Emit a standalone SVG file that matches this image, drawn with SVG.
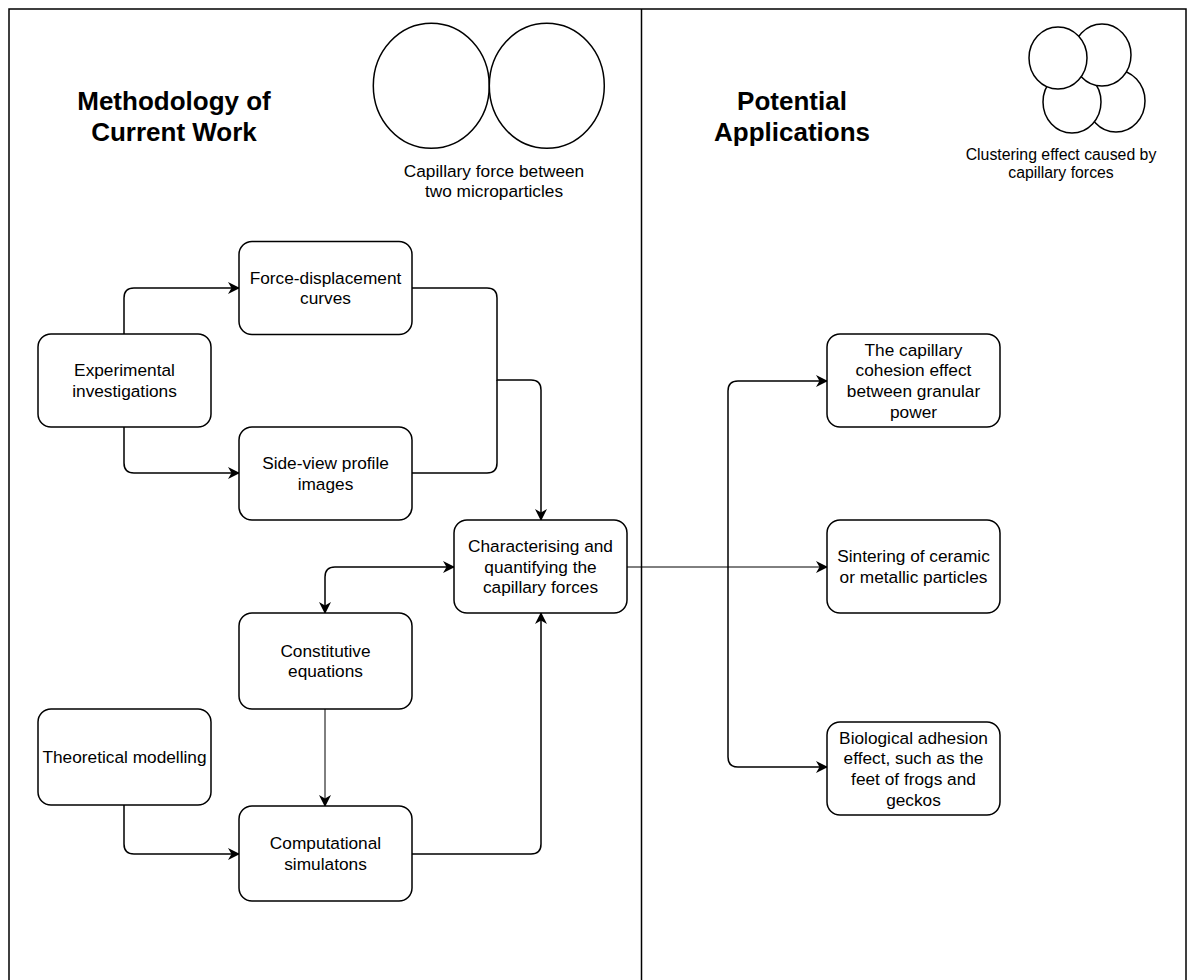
<svg xmlns="http://www.w3.org/2000/svg" width="1195" height="980" viewBox="0 0 1195 980">
<style>
.box{fill:#fff;stroke:#000;stroke-width:1.5}
.t{font-family:"Liberation Sans",Arial,sans-serif;font-size:17.28px;fill:#000;text-anchor:middle}
.title{font-family:"Liberation Sans",Arial,sans-serif;font-size:26px;font-weight:bold;fill:#000;text-anchor:middle}
.cap{font-family:"Liberation Sans",Arial,sans-serif;fill:#000;text-anchor:middle}
.c{fill:none;stroke:#000;stroke-width:1.5}
.thin{fill:none;stroke:#000;stroke-width:1}
.circ{fill:#fff;stroke:#000;stroke-width:1.5}
</style>
<defs>
<marker id="arr" viewBox="0 0 12 12" refX="11" refY="6" markerWidth="12" markerHeight="12" markerUnits="userSpaceOnUse" orient="auto-start-reverse">
<path d="M0,0 L12,6 L0,12 L3.5,6 Z" fill="#000"/>
</marker>
</defs>
<rect x="0" y="0" width="1195" height="980" fill="#fff"/>
<g id="frame">
<rect x="9" y="9" width="1177" height="1010" fill="none" stroke="#000" stroke-width="1.5"/>
<line x1="641.5" y1="9" x2="641.5" y2="980" stroke="#000" stroke-width="1.5"/>
</g>
<g id="title-left">
<text class="title"><tspan x="174" y="110">Methodology of</tspan><tspan x="174" y="141">Current Work</tspan></text>
</g>
<g id="title-right">
<text class="title"><tspan x="792" y="110">Potential</tspan><tspan x="792" y="141">Applications</tspan></text>
</g>
<g id="two-particles">
<ellipse class="circ" cx="431.3" cy="85.8" rx="58" ry="62.5"/>
<ellipse class="circ" cx="546.8" cy="85.8" rx="57.5" ry="62.5"/>
<text class="cap" style="font-size:17.28px"><tspan x="494" y="177">Capillary force between</tspan><tspan x="494" y="197">two microparticles</tspan></text>
</g>
<g id="cluster">
<ellipse class="circ" cx="1116" cy="101" rx="29" ry="31"/>
<ellipse class="circ" cx="1072" cy="102" rx="29" ry="31"/>
<ellipse class="circ" cx="1102" cy="55" rx="29" ry="31"/>
<ellipse class="circ" cx="1058" cy="58" rx="29" ry="31"/>
<text class="cap" style="font-size:15.84px"><tspan x="1061" y="160">Clustering effect caused by</tspan><tspan x="1061" y="178">capillary forces</tspan></text>
</g>
<g id="connectors">
<path class="c" d="M124,334 V298 Q124,288 134,288 H239" marker-end="url(#arr)"/>
<path class="c" d="M124,427 V463 Q124,473 134,473 H239" marker-end="url(#arr)"/>
<path class="c" d="M412,288 H487 Q497,288 497,298 V380 H531 Q541,380 541,390 V520" marker-end="url(#arr)"/>
<path class="c" d="M412,473 H487 Q497,473 497,463 V380"/>
<path class="c" d="M325,613 V577 Q325,567 335,567 H454" marker-start="url(#arr)" marker-end="url(#arr)"/>
<path class="thin" d="M325,709 V806" marker-end="url(#arr)"/>
<path class="c" d="M124,805 V844 Q124,854 134,854 H239" marker-end="url(#arr)"/>
<path class="c" d="M411,854 H531 Q541,854 541,844 V613" marker-end="url(#arr)"/>
<path class="thin" d="M627,567 H827" marker-end="url(#arr)"/>
<path class="c" d="M728,567 V391 Q728,381 738,381 H827" marker-end="url(#arr)"/>
<path class="c" d="M728,567 V757 Q728,767 738,767 H827" marker-end="url(#arr)"/>
</g>
<g id="force-displacement">
<rect class="box" x="239" y="241.5" width="173" height="93" rx="13"/>
<text class="t"><tspan x="325.5" y="283.7">Force-displacement</tspan><tspan x="325.5" y="304.4">curves</tspan></text>
</g>
<g id="experimental">
<rect class="box" x="38" y="334" width="173" height="93" rx="13"/>
<text class="t"><tspan x="124.5" y="376.2">Experimental</tspan><tspan x="124.5" y="396.9">investigations</tspan></text>
</g>
<g id="side-view">
<rect class="box" x="239" y="427" width="173" height="93" rx="13"/>
<text class="t"><tspan x="325.5" y="469.2">Side-view profile</tspan><tspan x="325.5" y="489.9">images</tspan></text>
</g>
<g id="characterising">
<rect class="box" x="454" y="520" width="173" height="93" rx="13"/>
<text class="t"><tspan x="540.5" y="551.9">Characterising and</tspan><tspan x="540.5" y="572.6">quantifying the</tspan><tspan x="540.5" y="593.3">capillary forces</tspan></text>
</g>
<g id="constitutive">
<rect class="box" x="239" y="613" width="173" height="96" rx="13"/>
<text class="t"><tspan x="325.5" y="656.7">Constitutive</tspan><tspan x="325.5" y="677.4">equations</tspan></text>
</g>
<g id="theoretical">
<rect class="box" x="38" y="709" width="173" height="96" rx="13"/>
<text class="t"><tspan x="124.5" y="763.1">Theoretical modelling</tspan></text>
</g>
<g id="computational">
<rect class="box" x="239" y="806" width="173" height="95" rx="13"/>
<text class="t"><tspan x="325.5" y="849.2">Computational</tspan><tspan x="325.5" y="869.9">simulatons</tspan></text>
</g>
<g id="app-cohesion">
<rect class="box" x="827" y="334" width="173" height="93" rx="13"/>
<text class="t"><tspan x="913.5" y="355.5">The capillary</tspan><tspan x="913.5" y="376.2">cohesion effect</tspan><tspan x="913.5" y="396.9">between granular</tspan><tspan x="913.5" y="417.6">power</tspan></text>
</g>
<g id="app-sintering">
<rect class="box" x="827" y="520" width="173" height="93" rx="13"/>
<text class="t"><tspan x="913.5" y="562.2">Sintering of ceramic</tspan><tspan x="913.5" y="582.9">or metallic particles</tspan></text>
</g>
<g id="app-biological">
<rect class="box" x="827" y="722" width="173" height="93" rx="13"/>
<text class="t"><tspan x="913.5" y="743.5">Biological adhesion</tspan><tspan x="913.5" y="764.2">effect, such as the</tspan><tspan x="913.5" y="784.9">feet of frogs and</tspan><tspan x="913.5" y="805.6">geckos</tspan></text>
</g>
</svg>
